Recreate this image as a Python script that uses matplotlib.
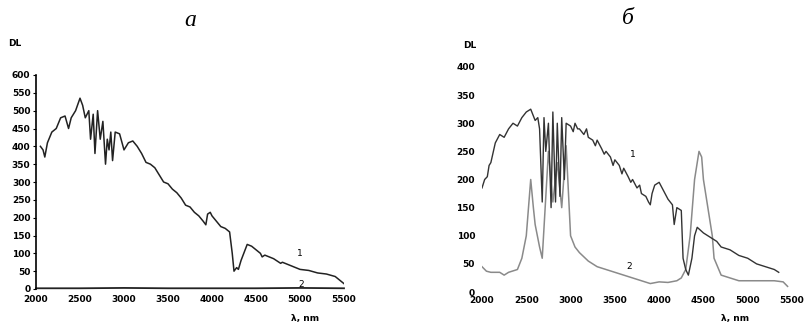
import matplotlib.pyplot as plt

# panel a
wl_a1 = [2050, 2080, 2100, 2130, 2180, 2230, 2280, 2330, 2370, 2400, 2450, 2500,
         2530, 2560, 2600, 2620, 2650, 2670, 2700, 2730, 2760, 2790, 2810, 2830,
         2850, 2870, 2900, 2950, 3000, 3050, 3100, 3150, 3200, 3250, 3300, 3350,
         3400, 3450, 3500, 3550, 3600, 3650, 3700, 3750, 3800, 3850, 3900, 3930,
         3950, 3980, 4000, 4050, 4100, 4150, 4200, 4230, 4250, 4280, 4300, 4330,
         4400, 4450, 4500, 4550, 4570, 4600, 4700, 4780, 4800, 4900, 5000, 5100,
         5200, 5300, 5400, 5500]
dl_a1 = [400, 390, 370, 410, 440, 450, 480, 485, 450, 480, 500, 535,
         515, 480, 500, 420, 490, 380, 500, 420, 470, 350, 420, 390,
         440, 360, 440, 435, 390, 410, 415, 400, 380, 355, 350, 340,
         320, 300, 295, 280, 270, 255, 235, 230, 215, 205, 190, 180,
         210, 215, 205, 190, 175, 170, 160, 100, 50, 60, 55, 80,
         125, 120, 110, 100, 90, 95, 85, 72, 75, 65, 55, 52,
         45, 42, 35, 15]
wl_a2 = [2000, 2500, 3000, 3500, 4000, 4500, 5000, 5500]
dl_a2 = [2, 2, 3, 2, 2, 2, 3, 2]

# panel б
wl_b1 = [2000, 2030, 2060, 2080, 2100, 2150, 2200, 2250, 2300, 2350, 2400, 2450,
         2500, 2550, 2600, 2630, 2650, 2680, 2700, 2720, 2750, 2780, 2800, 2830,
         2850, 2880, 2900, 2930, 2950, 3000, 3030, 3050, 3080, 3100, 3150, 3180,
         3200, 3250, 3280, 3300, 3350, 3380, 3400, 3450, 3480, 3500, 3550, 3580,
         3600, 3650, 3680, 3700, 3750, 3780, 3800, 3850, 3880, 3900, 3920, 3950,
         4000, 4050, 4100, 4150, 4170, 4200, 4250, 4270, 4300, 4330, 4370, 4400,
         4430, 4500, 4550, 4600, 4650, 4700, 4800, 4850, 4900, 5000, 5100, 5200,
         5300, 5350]
dl_b1 = [185, 200, 205, 225, 230, 265, 280, 275, 290, 300, 295, 310,
         320, 325, 305, 310, 290, 160, 310, 250, 300, 150, 320, 160,
         300, 170, 310, 200, 300, 295, 285, 300, 290, 290, 280, 290,
         275, 270, 260, 270, 255, 245, 250, 240, 225, 235, 225, 210,
         220, 205, 195, 200, 185, 190, 175, 170, 160, 155, 175, 190,
         195, 180, 165, 155, 120, 150, 145, 60, 40, 30, 60, 100,
         115, 105, 100, 95, 90, 80, 75, 70, 65, 60, 50, 45,
         40, 35]
wl_b2 = [2000, 2050, 2100, 2200, 2250, 2300, 2400, 2450, 2500, 2550, 2580, 2600,
         2650, 2680, 2750, 2800, 2850, 2900, 2950, 3000, 3050, 3100, 3200, 3300,
         3400, 3500, 3600, 3700, 3800, 3900, 4000, 4100, 4200, 4250, 4300, 4350,
         4400, 4450, 4480, 4500, 4550, 4600, 4620, 4700, 4800, 4900, 5000, 5100,
         5200, 5300, 5400, 5450]
dl_b2 = [45, 37, 35, 35, 30, 35, 40, 60, 100, 200, 150, 120,
         80, 60, 250, 160, 230, 150, 260, 100, 80, 70, 55, 45,
         40, 35, 30, 25, 20, 15, 18, 17, 20, 25, 40, 100,
         200, 250, 240, 200, 150, 100, 60, 30, 25, 20, 20, 20,
         20, 20, 18, 10]

fig = plt.figure(figsize=(8.09, 3.26), dpi=100)
tick_font = dict(fontsize=6.5, fontweight='bold', family='DejaVu Sans')

# ---- a
ax1 = fig.add_axes([36/809, 37/326, 308/809, 214/326])
ax1.plot(wl_a1, dl_a1, '-', color='#222222', lw=1.1)
ax1.plot(wl_a2, dl_a2, '-', color='#222222', lw=1.3, clip_on=False)
ax1.set_xlim(2000, 5500)
ax1.set_ylim(0, 600)
ax1.set_xticks(range(2000, 5501, 500))
ax1.set_yticks(range(0, 601, 50))
for s in ['top', 'right', 'bottom']:
    ax1.spines[s].set_visible(False)
ax1.spines['left'].set_linewidth(1.2)
ax1.tick_params(axis='y', length=2, width=0.8, pad=2)
ax1.tick_params(axis='x', length=0, pad=4)
for lab in ax1.get_xticklabels() + ax1.get_yticklabels():
    lab.set(**tick_font)
ax1.text(5000, 100, '1', fontsize=6.5, ha='center', va='center')
ax1.text(5010, 14, '2', fontsize=6.5, ha='center', va='center')
fig.text(8/809, 1 - 43/326, 'DL', fontsize=6.5, fontweight='bold', va='center')
fig.text(305/809, 1 - 318/326, 'λ, nm', fontsize=6.5, fontweight='bold',
         ha='center', va='center')
fig.text(190/809, 1 - 20/326, 'а', fontsize=17, style='italic',
         family='Liberation Serif', ha='center', va='center')

# ---- б
ax2 = fig.add_axes([482/809, 34/326, 310/809, 225/326])
ax2.plot(wl_b2, dl_b2, '-', color='#8a8a8a', lw=1.1)
ax2.plot(wl_b1, dl_b1, '-', color='#333333', lw=1.0)
ax2.set_xlim(2000, 5500)
ax2.set_ylim(0, 400)
ax2.set_xticks(range(2000, 5501, 500))
ax2.set_yticks(range(0, 401, 50))
for s in ax2.spines.values():
    s.set_visible(False)
ax2.tick_params(length=0, pad=5)
ax2.tick_params(axis='x', pad=3)
for lab in ax2.get_xticklabels() + ax2.get_yticklabels():
    lab.set(**tick_font)
ax2.text(3700, 245, '1', fontsize=6.5, ha='center', va='center')
ax2.text(3660, 45, '2', fontsize=6.5, ha='center', va='center')
fig.text(463/809, 1 - 45/326, 'DL', fontsize=6.5, fontweight='bold', va='center')
fig.text(735/809, 1 - 319/326, 'λ, nm', fontsize=6.5, fontweight='bold',
         ha='center', va='center')
fig.text(628/809, 1 - 18/326, 'б', fontsize=17, style='italic',
         family='Liberation Serif', ha='center', va='center')

fig.savefig('out.png', dpi=100, facecolor='white')
